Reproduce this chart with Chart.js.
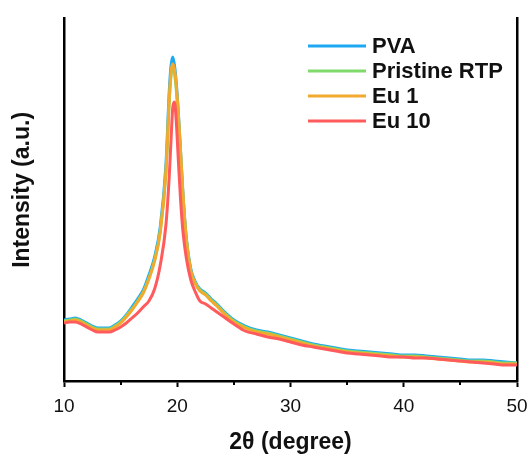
<!DOCTYPE html>
<html>
<head>
<meta charset="utf-8">
<script src="https://cdn.jsdelivr.net/npm/chart.js@4.4.0/dist/chart.umd.min.js"></script>
<style>
  html, body { margin: 0; padding: 0; background: #fff; }
</style>
</head>
<body>
<canvas id="xrd" width="531" height="456"></canvas>
<script>
/* ── Data ─────────────────────────────────────────── */
const twoTheta = [10, 10.5, 11, 11.5, 12, 12.5, 13, 13.5, 14, 14.5,
  15, 15.5, 16, 16.5, 17, 17.5, 18, 18.5, 19, 19.3,
  19.45, 19.6, 19.75, 19.9, 20.1, 20.3, 20.5, 20.8, 21.2, 21.6,
  22, 22.5, 23, 23.5, 24, 25, 26, 27, 28, 29,
  30, 31, 32, 33, 34, 35, 36, 37, 38, 39, 40, 41, 42, 43, 44, 45, 46, 47, 48, 49, 50];

const pva = [61, 62, 63, 61, 58, 55, 53, 53, 53, 56,
  60, 66, 74, 82, 91, 106, 124, 154, 216, 291,
  315, 324, 316, 300, 268, 228, 188, 143, 112, 99,
  92, 88, 82, 77, 71, 61, 55, 51, 49, 46,
  43, 40, 37, 35, 33, 31, 30, 29, 28, 27, 26, 26, 25, 24, 23, 22, 21, 21, 20, 19, 18];

const pristine = [60, 61, 62, 60, 57, 54, 52, 52, 52, 55,
  59, 65, 72, 80, 89, 103, 121, 150, 209, 281,
  305, 313, 308, 293, 263, 226, 186, 142, 110, 98,
  91, 87, 81, 76, 70, 60, 54, 50, 48, 45,
  42, 39, 36, 34, 32, 30, 29, 28, 27, 26, 25, 25, 24, 23, 22, 21, 20, 20, 19, 18, 18];

const eu1 = [59, 60, 61, 59, 56, 53, 51, 51, 51, 54,
  58, 64, 71, 79, 88, 102, 120, 149, 209, 283,
  309, 317, 312, 297, 266, 228, 188, 142, 110, 97,
  90, 86, 80, 75, 69, 59, 53, 49, 47, 44,
  41, 38, 35, 33, 31, 29, 28, 27, 26, 25, 24, 24, 23, 22, 21, 20, 19, 19, 18, 17, 17];

const eu10 = [58, 59, 59, 57, 54, 51, 49, 49, 49, 51,
  54, 58, 63, 68, 74, 80, 92, 116, 156, 206,
  241, 273, 279, 262, 220, 180, 150, 123, 101, 89,
  80, 77, 73, 69, 65, 57, 50, 47, 44, 42,
  39, 36, 34, 32, 30, 28, 27, 26, 25, 24, 24, 23, 23, 22, 21, 20, 19, 18, 17, 16, 16];

const seriesNames = ['PVA', 'Pristine RTP', 'Eu 1', 'Eu 10'];
const seriesColors = ['#1ea8f2', '#80d96b', '#f2aa2e', '#ff5a5c'];
const xMin = 10, xMax = 50, xStep = 5, xMajor = 10;
const yMax = 363;

const font = "'Liberation Sans', Arial, sans-serif";

/* ── Legend drawn inside the plot (line + bold label) ── */
const lineLegend = {
  id: 'lineLegend',
  afterDatasetsDraw(chart) {
    const ctx = chart.ctx;
    ctx.save();
    ctx.font = 'bold 22px ' + font;
    ctx.textBaseline = 'middle';
    seriesNames.forEach((name, i) => {
      const y = 46 + i * 25;
      ctx.strokeStyle = seriesColors[i];
      ctx.lineWidth = 3;
      ctx.beginPath();
      ctx.moveTo(308, y);
      ctx.lineTo(366, y);
      ctx.stroke();
      ctx.fillStyle = '#111';
      ctx.fillText(name, 372, y + 1);
    });
    ctx.restore();
  }
};

/* ── Shorter minor ticks on the x axis ── */
const minorTicks = {
  id: 'minorTicks',
  afterDraw(chart) {
    const x = chart.scales.x;
    const ctx = chart.ctx;
    ctx.save();
    ctx.strokeStyle = '#000';
    ctx.lineWidth = 2;
    x.ticks.forEach(t => {
      if (t.value % xMajor === 0) return;
      const px = Math.round(x.getPixelForValue(t.value));
      ctx.beginPath();
      ctx.moveTo(px, x.top);
      ctx.lineTo(px, x.top + 4);
      ctx.stroke();
    });
    ctx.restore();
  }
};

const allSeries = [pva, pristine, eu1, eu10];

new Chart(document.getElementById('xrd'), {
  type: 'line',
  data: {
    datasets: allSeries.map((vals, i) => ({
      label: seriesNames[i],
      data: twoTheta.map((t, k) => ({ x: t, y: vals[k] })),
      borderColor: seriesColors[i],
      borderWidth: 3,
      pointRadius: 0,
      cubicInterpolationMode: 'monotone',
      fill: false,
      order: allSeries.length - i
    }))
  },
  options: {
    responsive: false,
    animation: false,
    layout: { padding: { top: 18, left: 0, right: 0, bottom: 0 } },
    plugins: { legend: { display: false }, tooltip: { enabled: false } },
    scales: {
      x: {
        type: 'linear',
        min: xMin,
        max: xMax,
        afterFit: s => { s.height = 75; s.paddingLeft = 0; s.paddingRight = 0; },
        border: { display: true, color: '#000', width: 2.5 },
        grid: {
          drawOnChartArea: false,
          tickLength: 6,
          tickWidth: 2,
          tickColor: c => (c.tick && c.tick.value % xMajor === 0 ? '#000' : 'rgba(0,0,0,0)')
        },
        ticks: {
          stepSize: xStep,
          padding: 8,
          color: '#111',
          font: { family: font, size: 19 },
          autoSkip: false,
          maxRotation: 0,
          callback: v => (v % xMajor === 0 ? v : '')
        },
        title: {
          display: true,
          text: '2θ (degree)',
          color: '#111',
          padding: 0,
          font: { family: font, size: 23, weight: 'bold' }
        }
      },
      y: {
        min: 0,
        max: yMax,
        afterFit: s => { s.width = 64; },
        border: { display: true, color: '#000', width: 2.5 },
        grid: { display: false },
        ticks: { display: false },
        title: {
          display: true,
          // leading spaces nudge the centred label a little upwards
          text: '   Intensity (a.u.)',
          color: '#111',
          padding: { top: 9, bottom: 0 },
          font: { family: font, size: 23, weight: 'bold' }
        }
      },
      y2: {
        position: 'right',
        min: 0,
        max: yMax,
        afterFit: s => { s.width = 14; },
        border: { display: true, color: '#000', width: 2.5 },
        grid: { display: false },
        ticks: { display: false }
      }
    }
  },
  plugins: [lineLegend, minorTicks]
});
</script>
</body>
</html>
